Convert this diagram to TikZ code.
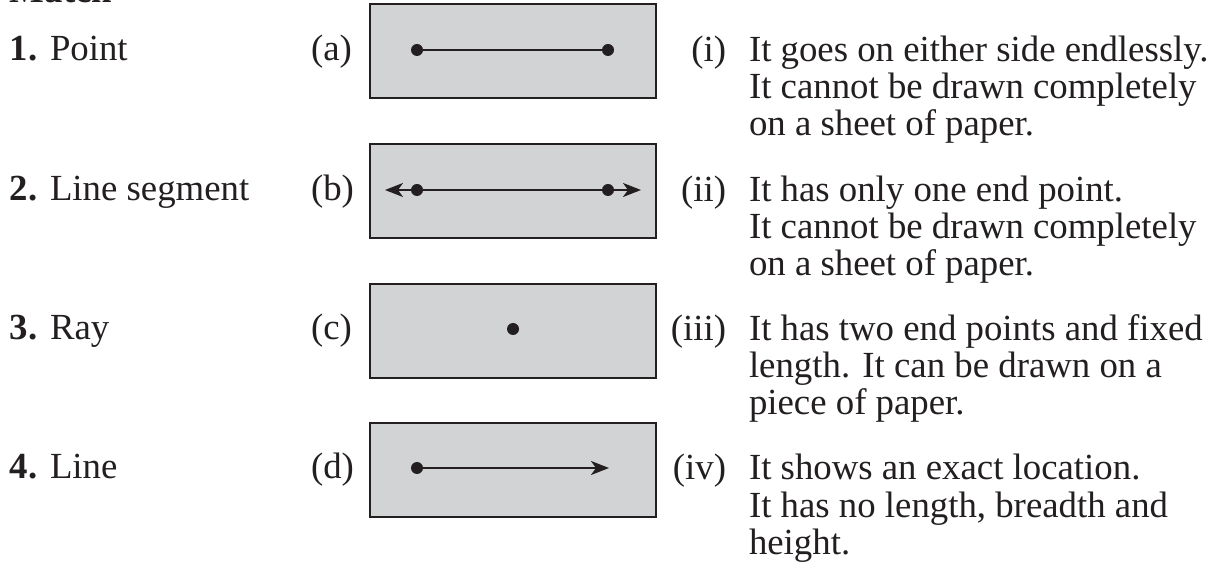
\documentclass[tikz,border=0pt]{standalone}
\usepackage{fontspec}
\setmainfont{Liberation Serif}
\usetikzlibrary{arrows.meta}
\definecolor{boxfill}{HTML}{D1D3D4}
\definecolor{ink}{HTML}{231F20}
\begin{document}
\begin{tikzpicture}[x=0.5pt,y=-0.5pt,
  txt/.style={inner sep=0pt, outer sep=0pt, anchor=base west, font=\fontsize{18.4}{18.5}\selectfont, text=ink},
  lbl/.style={txt, anchor=base east},
  panel/.style={draw=ink, line width=1pt, fill=boxfill, minimum width=143pt, minimum height=47pt, anchor=north west, inner sep=0pt},
  dot/.style={circle, fill=ink, inner sep=0pt, minimum size=6pt},
  seg/.style={draw=ink, line width=1pt},
  tip/.style={-{Stealth[length=9pt,width=7pt,inset=2.5pt]}}]
\useasboundingbox (0,0) rectangle (1232,566);
% heading (cut off at top)
\node[txt] (match) at (10,3) {\textbf{Match}};
% left column
\node[txt] (n1) at (10,61) {\textbf{1.}};
\node[txt] (t1) at (50,61) {Point};
\node[txt] (n2) at (10,201) {\textbf{2.}};
\node[txt] (t2) at (50,201) {Line segment};
\node[txt] (n3) at (10,340) {\textbf{3.}};
\node[txt] (t3) at (50,340) {Ray};
\node[txt] (n4) at (10,479) {\textbf{4.}};
\node[txt] (t4) at (50,479) {Line};
\node[txt] (la) at (311,61) {(a)};
\node[txt] (lb) at (311,201) {(b)};
\node[txt] (lc) at (311,340) {(c)};
\node[txt] (ld) at (311,479) {(d)};
% panels
\node[panel] (pa) at (369,3) {};
\node[panel] (pb) at (369,143) {};
\node[panel] (pc) at (369,283) {};
\node[panel] (pd) at (369,422) {};
% (a) line segment
\node[dot] (a1) at (417,50) {};
\node[dot] (a2) at (608,50) {};
\draw[seg] (a1) -- (a2);
% (b) line
\node[dot] (b1) at (417,190) {};
\node[dot] (b2) at (608,190) {};
\coordinate (bl) at (385,190);
\coordinate (br) at (641,190);
\draw[seg] (b1) -- (b2);
\draw[seg,tip] (b1.center) -- (bl);
\draw[seg,tip] (b2.center) -- (br);
% (c) point
\node[dot] (c1) at (513,329) {};
% (d) ray
\node[dot] (d1) at (417,468) {};
\coordinate (dr) at (609,468);
\draw[seg,tip] (d1) -- (dr);
% right column
\node[lbl] (ri) at (726,62) {(i)};
\node[txt] (i1) at (749,62) {It goes on either side endlessly.};
\node[txt] (i2) at (749,99) {It cannot be drawn completely};
\node[txt] (i3) at (749,136) {on a sheet of paper.};
\node[lbl] (rii) at (726,202) {(ii)};
\node[txt] (ii1) at (749,202) {It has only one end point.};
\node[txt] (ii2) at (749,239) {It cannot be drawn completely};
\node[txt] (ii3) at (749,276) {on a sheet of paper.};
\node[lbl] (riii) at (726,341) {(iii)};
\node[txt] (iii1) at (749,341) {It has two end points and fixed};
\node[txt] (iii2) at (749,378) {length. It can be drawn on a};
\node[txt] (iii3) at (749,415) {piece of paper.};
\node[lbl] (riv) at (726,480) {(iv)};
\node[txt] (iv1) at (749,480) {It shows an exact location.};
\node[txt] (iv2) at (749,517) {It has no length, breadth and};
\node[txt] (iv3) at (749,554) {height.};
\end{tikzpicture}
\end{document}
